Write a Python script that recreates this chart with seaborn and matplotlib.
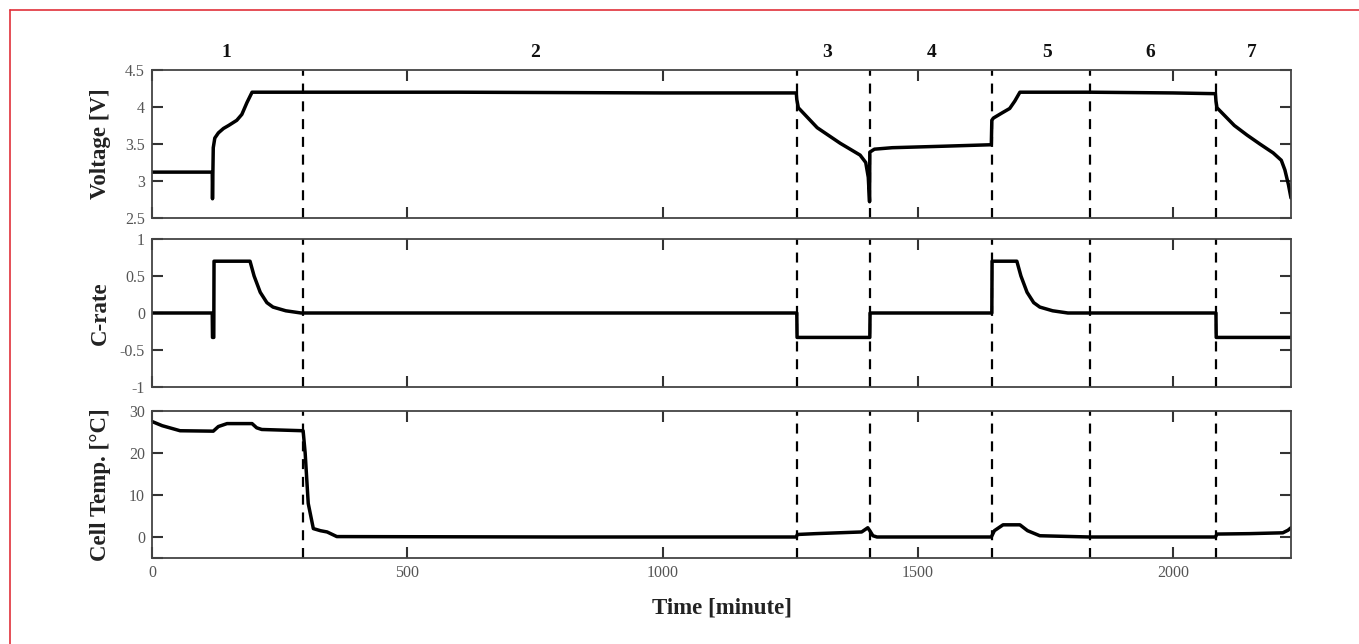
import numpy as np
import pandas as pd
import matplotlib
matplotlib.use("Agg")
import matplotlib.pyplot as plt
import matplotlib.transforms as mtransforms
from matplotlib.lines import Line2D
import seaborn as sns

# ---------------- data ----------------
t_volt = [0, 118, 118.5, 120, 123, 130, 140, 150, 166, 176, 186, 196, 600, 1000, 1262,
          1263, 1266, 1303, 1348, 1387, 1398, 1403, 1405.5,
          1406, 1415, 1450, 1550, 1644,
          1645, 1648, 1665, 1680, 1690, 1700, 1837, 2000, 2083,
          2084, 2086, 2120, 2145, 2170, 2196, 2212, 2219, 2226, 2231]
volt = [3.12, 3.12, 2.76, 3.45, 3.58, 3.65, 3.71, 3.75, 3.82, 3.9, 4.06, 4.2, 4.2, 4.19, 4.19,
        4.1, 3.99, 3.72, 3.51, 3.35, 3.25, 3.05, 2.72,
        3.39, 3.43, 3.45, 3.47, 3.49,
        3.82, 3.85, 3.92, 3.98, 4.08, 4.2, 4.2, 4.19, 4.18,
        4.08, 3.99, 3.75, 3.62, 3.5, 3.38, 3.28, 3.15, 2.95, 2.77]

t_crate = [0, 118, 118.5, 121, 121.5, 192, 200, 212, 225, 237, 262, 292,
           1263, 1263.5, 1406, 1406.5, 1645, 1645.5, 1694, 1702, 1714, 1727, 1739, 1764, 1794,
           2084, 2084.5, 2231]
crate = [0, 0, -0.33, -0.33, 0.7, 0.7, 0.5, 0.28, 0.14, 0.08, 0.03, 0,
         0, -0.33, -0.33, 0, 0, 0.7, 0.7, 0.5, 0.28, 0.14, 0.08, 0.03, 0,
         0, -0.33, -0.33]

t_temp = [0, 20, 55, 120, 130, 147, 196, 205, 215, 296, 300, 306, 316, 330, 343, 362,
          800, 1262, 1264, 1300, 1390, 1402, 1406, 1412, 1420,
          1644, 1650, 1667, 1700, 1715, 1739, 1837,
          2083, 2086, 2150, 2215, 2225, 2231]
temp = [27.5, 26.5, 25.3, 25.2, 26.3, 27.0, 27.0, 26.0, 25.6, 25.3, 20, 8, 2.0, 1.5, 1.2, 0.1,
        0, 0, 0.6, 0.8, 1.2, 2.2, 1.5, 0.3, 0,
        0, 1.5, 2.9, 2.9, 1.5, 0.3, 0,
        0, 0.7, 0.8, 1.0, 1.6, 2.2]

phase_bounds = [296, 1263, 1406, 1645, 1838, 2084]
phase_labels = ["1", "2", "3", "4", "5", "6", "7"]
phase_label_x = [145, 750, 1322, 1528, 1753, 1955, 2155]

x_ticks = [0, 500, 1000, 1500, 2000]
v_ticks = [2.5, 3, 3.5, 4, 4.5]
v_ticklabels = ["2.5", "3", "3.5", "4", "4.5"]
c_ticks = [-1, -0.5, 0, 0.5, 1]
c_ticklabels = ["-1", "-0.5", "0", "0.5", "1"]
t_ticks = [-5, 0, 10, 20, 30]
t_ticklabels = ["", "0", "10", "20", "30"]

# ---------------- style ----------------
sns.set_theme(style="ticks")
plt.rcParams["font.family"] = ["Liberation Serif", "DejaVu Serif"]

W, H = 1359, 644
fig = plt.figure(figsize=(W / 100, H / 100), dpi=100)
fig.patch.set_facecolor("white")

left = 152 / W
width = (1291 - 152) / W
def ax_at(top_px, bot_px):
    return fig.add_axes([left, 1 - bot_px / H, width, (bot_px - top_px) / H])

ax1 = ax_at(70, 218)
ax2 = ax_at(239, 387)
ax3 = ax_at(411, 558)

df_v = pd.DataFrame({"t": t_volt, "v": volt})
df_c = pd.DataFrame({"t": t_crate, "c": crate})
df_t = pd.DataFrame({"t": t_temp, "T": temp})

lw = 2.5
sns.lineplot(data=df_v, x="t", y="v", ax=ax1, color="black", lw=lw, sort=False, estimator=None)
sns.lineplot(data=df_c, x="t", y="c", ax=ax2, color="black", lw=lw, sort=False, estimator=None)
sns.lineplot(data=df_t, x="t", y="T", ax=ax3, color="black", lw=lw, sort=False, estimator=None)

tick_col = "#555555"
spine_col = "#444444"
for ax in (ax1, ax2, ax3):
    ax.set_xlim(0, 2231)
    ax.set_xticks(x_ticks)
    for b in phase_bounds:
        ax.axvline(b, color="black", lw=1.6, ls=(0, (4.5, 3.5)), zorder=1)
    for s in ax.spines.values():
        s.set_visible(True)
        s.set_color(spine_col)
        s.set_linewidth(1.3)
    ax.tick_params(direction="in", length=8, width=1.5, color="#333333",
                   top=True, right=True, labelsize=11.5, labelcolor=tick_col, pad=5)
    ax.set_xlabel("")

ax1.set_ylim(2.5, 4.5)
ax1.set_yticks(v_ticks)
ax1.set_yticklabels(v_ticklabels)
ax2.set_ylim(-1, 1)
ax2.set_yticks(c_ticks)
ax2.set_yticklabels(c_ticklabels)
ax3.set_ylim(-5, 30)
ax3.set_yticks(t_ticks)
ax3.set_yticklabels(t_ticklabels)

ax1.tick_params(labelbottom=False)
ax2.tick_params(labelbottom=False)

lab_kw = dict(fontsize=16.5, fontweight="bold", color="#222222")
ax1.set_ylabel("Voltage [V]", **lab_kw)
ax2.set_ylabel("C-rate", **lab_kw)
ax3.set_ylabel("Cell Temp. [°C]", **lab_kw)
for ax in (ax1, ax2, ax3):
    ax.yaxis.set_label_coords(-0.036, 0.5)
ax3.set_xlabel("Time [minute]", labelpad=12, **lab_kw)

trans = mtransforms.blended_transform_factory(ax1.transData, ax1.transAxes)
for lab, xp in zip(phase_labels, phase_label_x):
    ax1.text(xp, 1.12, lab, transform=trans, ha="center", va="center",
             fontsize=14, fontweight="bold", color="#111111")

# red frame around the picture (top and left edges)
fig.add_artist(Line2D([10 / W, 1], [1 - 10 / H, 1 - 10 / H], transform=fig.transFigure,
                      color="#e0303a", lw=1.2))
fig.add_artist(Line2D([10 / W, 10 / W], [0, 1 - 10 / H], transform=fig.transFigure,
                      color="#e0303a", lw=1.2))

fig.savefig("out.png", dpi=100, facecolor="white")
